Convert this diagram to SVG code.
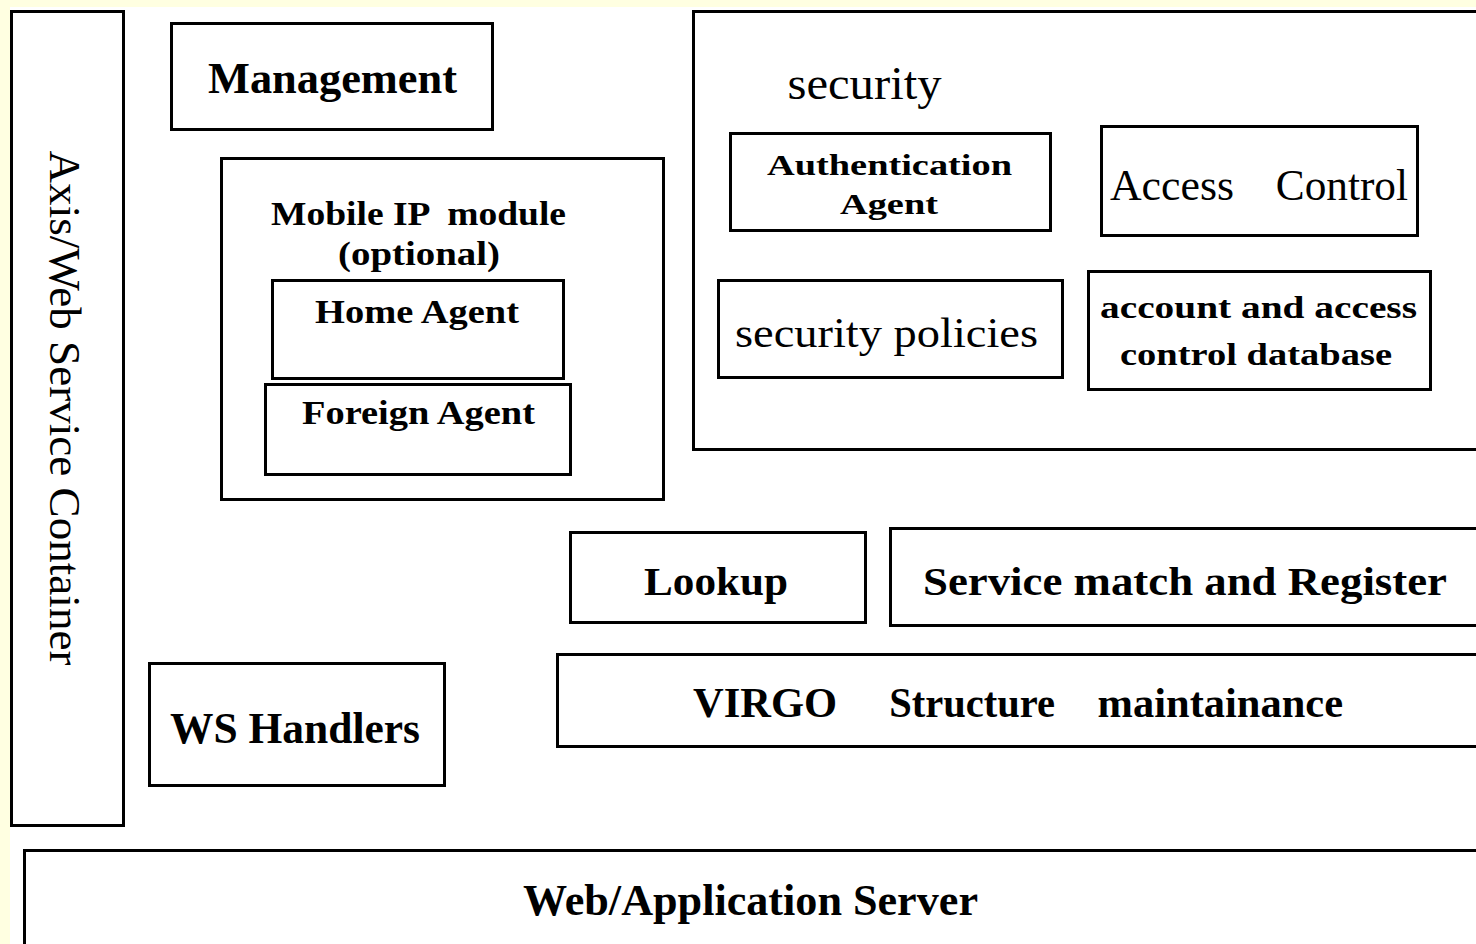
<svg xmlns="http://www.w3.org/2000/svg" width="1476" height="944" viewBox="0 0 1476 944">
<style>
.box{fill:none;stroke:#000;stroke-width:3}
text{font-family:"Liberation Serif","Times New Roman",serif;fill:#000;text-anchor:middle;white-space:pre}
.b{font-weight:bold}
.r{font-weight:normal}
</style>
<rect x="0" y="0" width="1476" height="944" fill="#FFFFE1"/>
<rect x="10" y="7" width="1466" height="937" fill="#FFFFFF"/>

<g id="axis-container">
<rect class="box" x="11.5" y="11.5" width="112" height="814"/>
<text class="r" font-size="45" transform="translate(50,408) rotate(90)" textLength="515" lengthAdjust="spacingAndGlyphs">Axis/Web Service Container</text>
</g>

<g id="management">
<rect class="box" x="171.5" y="23.5" width="321" height="106"/>
<text class="b" x="332.5" y="93" font-size="44" textLength="249" lengthAdjust="spacingAndGlyphs">Management</text>
</g>

<g id="mobile-ip">
<rect class="box" x="221.5" y="158.5" width="442" height="341"/>
<text class="b" x="418.5" y="225" font-size="34" textLength="295" lengthAdjust="spacingAndGlyphs">Mobile IP  module</text>
<text class="b" x="419" y="265" font-size="34" textLength="162" lengthAdjust="spacingAndGlyphs">(optional)</text>
</g>

<g id="home-agent">
<rect class="box" x="272.5" y="280.5" width="291" height="98"/>
<text class="b" x="417" y="323" font-size="34" textLength="204" lengthAdjust="spacingAndGlyphs">Home Agent</text>
</g>

<g id="foreign-agent">
<rect class="box" x="265.5" y="384.5" width="305" height="90"/>
<text class="b" x="418.5" y="424" font-size="34" textLength="233" lengthAdjust="spacingAndGlyphs">Foreign Agent</text>
</g>

<g id="security">
<rect class="box" x="693.5" y="11.5" width="800" height="438"/>
<text class="r" x="864.5" y="99" font-size="46" textLength="154" lengthAdjust="spacingAndGlyphs">security</text>
</g>

<g id="authentication-agent">
<rect class="box" x="730.5" y="133.5" width="320" height="97"/>
<text class="b" x="889.5" y="175" font-size="30" textLength="245" lengthAdjust="spacingAndGlyphs">Authentication</text>
<text class="b" x="889" y="214" font-size="30" textLength="98" lengthAdjust="spacingAndGlyphs">Agent</text>
</g>

<g id="access-control">
<rect class="box" x="1101.5" y="126.5" width="316" height="109"/>
<text class="r" font-size="44" y="200"><tspan x="1172" textLength="124" lengthAdjust="spacingAndGlyphs">Access</tspan><tspan x="1336.5" textLength="143" lengthAdjust="spacingAndGlyphs"> Control</tspan></text>
</g>

<g id="security-policies">
<rect class="box" x="718.5" y="280.5" width="344" height="97"/>
<text class="r" x="886.5" y="347" font-size="42" textLength="303" lengthAdjust="spacingAndGlyphs">security policies</text>
</g>

<g id="account-database">
<rect class="box" x="1088.5" y="271.5" width="342" height="118"/>
<text class="b" x="1258.5" y="318" font-size="32" textLength="317" lengthAdjust="spacingAndGlyphs">account and access</text>
<text class="b" x="1256" y="365" font-size="32" textLength="272" lengthAdjust="spacingAndGlyphs">control database</text>
</g>

<g id="lookup">
<rect class="box" x="570.5" y="532.5" width="295" height="90"/>
<text class="b" x="716" y="595" font-size="40" textLength="144" lengthAdjust="spacingAndGlyphs">Lookup</text>
</g>

<g id="service-match">
<rect class="box" x="890.5" y="528.5" width="600" height="97"/>
<text class="b" x="1185" y="595" font-size="40" textLength="524" lengthAdjust="spacingAndGlyphs">Service match and Register</text>
</g>

<g id="virgo">
<rect class="box" x="557.5" y="654.5" width="930" height="92"/>
<text class="b" font-size="42" y="717"><tspan x="765" textLength="144" lengthAdjust="spacingAndGlyphs">VIRGO</tspan><tspan x="967" textLength="176" lengthAdjust="spacingAndGlyphs"> Structure</tspan><tspan x="1215" textLength="256" lengthAdjust="spacingAndGlyphs"> maintainance</tspan></text>
</g>

<g id="ws-handlers">
<rect class="box" x="149.5" y="663.5" width="295" height="122"/>
<text class="b" x="295" y="743" font-size="44" textLength="250" lengthAdjust="spacingAndGlyphs">WS Handlers</text>
</g>

<g id="web-app-server">
<rect class="box" x="24.5" y="850.5" width="1470" height="200"/>
<text class="b" x="750.5" y="915" font-size="44" textLength="455" lengthAdjust="spacingAndGlyphs">Web/Application Server</text>
</g>

<g id="connectors"></g>
</svg>
